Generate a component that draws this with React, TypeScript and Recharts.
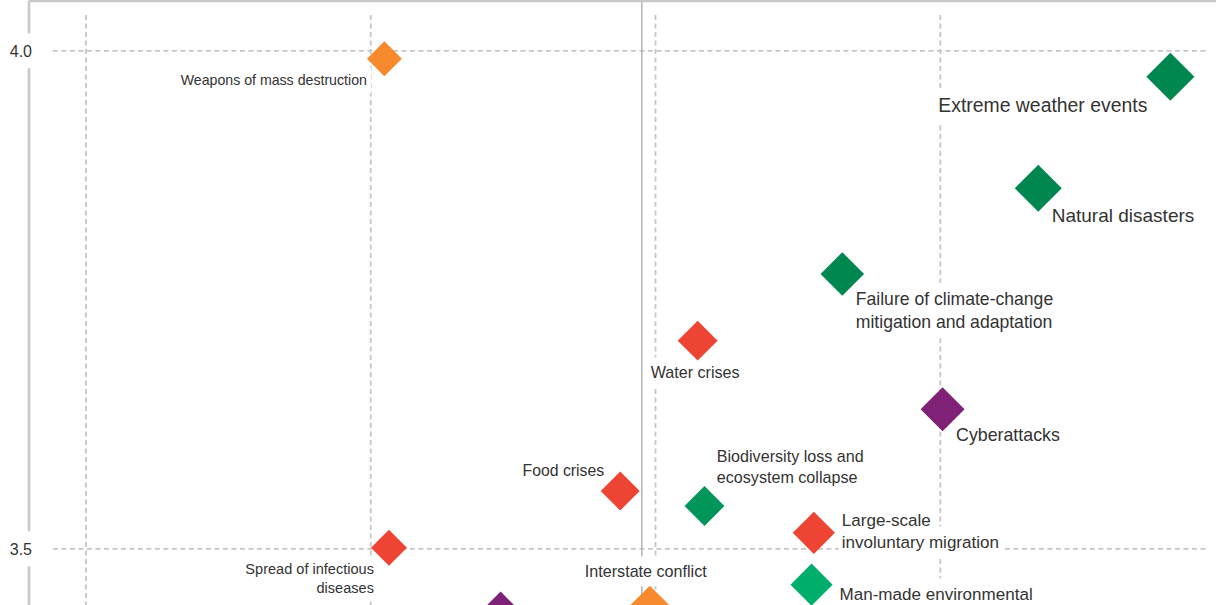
import React from 'react';
import { ScatterChart, Scatter, XAxis, YAxis, ZAxis, ReferenceLine } from 'recharts';

// Global risks landscape (cropped view): likelihood vs impact
const RISKS = [
    'Weapons of mass destruction',
    'Extreme weather events',
    'Natural disasters',
    'Failure of climate-change mitigation and adaptation',
    'Water crises',
    'Cyberattacks',
    'Food crises',
    'Biodiversity loss and ecosystem collapse',
    'Large-scale involuntary migration',
    'Spread of infectious diseases',
    'Interstate conflict',
    'Man-made environmental disasters',
    'Critical information infrastructure breakdown',
];
const CATEGORIES = [
    'Geopolitical',
    'Environmental',
    'Environmental',
    'Environmental',
    'Societal',
    'Technological',
    'Societal',
    'Environmental',
    'Societal',
    'Societal',
    'Geopolitical',
    'Environmental',
    'Technological',
];
const LIKELIHOOD = [3.012, 3.702, 3.586, 3.414, 3.287, 3.502, 3.219, 3.293, 3.389, 3.016, 3.245, 3.387, 3.114];
const IMPACT = [3.992, 3.974, 3.862, 3.776, 3.709, 3.64, 3.558, 3.543, 3.516, 3.501, 3.443, 3.464, 3.437];
const WEIGHT = [53, 100, 96, 82, 69, 84, 66, 69, 77, 56, 69, 77, 69];

const Y_TICKS = [3.5, 4.0];
const X_GRID = [2.75, 3.0, 3.25, 3.5];
const AVERAGE_LIKELIHOOD = 3.238;

const X_DOMAIN: [number, number] = [2.7, 3.8];
const Y_DOMAIN: [number, number] = [3.3, 4.05];

const FONT = '"Liberation Sans", Arial, Helvetica, sans-serif';
const TEXT_COLOR = '#333';
const GRID_COLOR = '#c6c6c6';

const CATEGORY_COLORS: Record<string, string> = {
    Geopolitical: '#f68a2d',
    Societal: '#ed4434',
    Technological: '#7f2277',
    Environmental: '#00864f',
};
const SHADES: Record<string, string> = {
    'Biodiversity loss and ecosystem collapse': '#00965a',
    'Man-made environmental disasters': '#00ae6c',
};

type Anchor = 'start' | 'middle' | 'end';
interface LabelLayout {
    lines: string[];
    anchor: Anchor;
    dx: number;
    dy: number;
}

// label placement relative to each diamond; the last risk's label sits below the visible area
const LABEL_LAYOUT: Record<string, LabelLayout> = {
    'Weapons of mass destruction': { lines: ['Weapons of mass destruction'], anchor: 'end', dx: -17.5, dy: 26 },
    'Extreme weather events': { lines: ['Extreme weather events'], anchor: 'end', dx: -23, dy: 35.7 },
    'Natural disasters': { lines: ['Natural disasters'], anchor: 'start', dx: 13.5, dy: 33.5 },
    'Failure of climate-change mitigation and adaptation': {
        lines: ['Failure of climate-change', 'mitigation and adaptation'],
        anchor: 'start',
        dx: 13.5,
        dy: 31,
    },
    'Water crises': { lines: ['Water crises'], anchor: 'middle', dx: -2.5, dy: 37 },
    Cyberattacks: { lines: ['Cyberattacks'], anchor: 'start', dx: 13.5, dy: 32 },
    'Food crises': { lines: ['Food crises'], anchor: 'end', dx: -16, dy: -14.8 },
    'Biodiversity loss and ecosystem collapse': {
        lines: ['Biodiversity loss and', 'ecosystem collapse'],
        anchor: 'start',
        dx: 12.3,
        dy: -44.3,
    },
    'Large-scale involuntary migration': {
        lines: ['Large-scale', 'involuntary migration'],
        anchor: 'start',
        dx: 28,
        dy: -7.3,
    },
    'Spread of infectious diseases': {
        lines: ['Spread of infectious', 'diseases'],
        anchor: 'end',
        dx: -15,
        dy: 25.8,
    },
    'Interstate conflict': { lines: ['Interstate conflict'], anchor: 'middle', dx: -4, dy: -29 },
    'Man-made environmental disasters': {
        lines: ['Man-made environmental', 'disasters'],
        anchor: 'start',
        dx: 28,
        dy: 15,
    },
};

const data = RISKS.map((name, i) => ({
    name,
    category: CATEGORIES[i],
    x: LIKELIHOOD[i],
    y: IMPACT[i],
    z: WEIGHT[i],
}));

let measureCtx: CanvasRenderingContext2D | null = null;
function textWidth(text: string, size: number) {
    if (!measureCtx) measureCtx = document.createElement('canvas').getContext('2d');
    if (!measureCtx) return text.length * size * 0.5;
    measureCtx.font = `${size}px ${FONT}`;
    return measureCtx.measureText(text).width;
}

function halfSize(props: any) {
    if (props.width) return props.width / 2;
    return Math.sqrt(Math.max(props.size || 0, 0) / Math.PI);
}

function Diamond(props: any) {
    const { cx, cy, payload } = props;
    const h = halfSize(props);
    const fill = SHADES[payload.name] ?? CATEGORY_COLORS[payload.category];
    return <polygon points={`${cx},${cy - h} ${cx + h},${cy} ${cx},${cy + h} ${cx - h},${cy}`} fill={fill} />;
}

function RiskLabel(props: any) {
    const { cx, cy, payload } = props;
    const layout = LABEL_LAYOUT[payload.name];
    if (!layout) return <g />;
    const h = halfSize(props);
    const f = h * 0.8 + 0.2;
    const x = cx + layout.dx;
    const rows = layout.lines.map((line, i) => {
        const base = cy + layout.dy + i * f * 1.3;
        const w = textWidth(line, f);
        const left = layout.anchor === 'start' ? x : layout.anchor === 'end' ? x - w : x - w / 2;
        return { line, base, w, left };
    });
    return (
        <g>
            {rows.map((r, i) => (
                <rect key={`bg-${i}`} x={r.left - 3} y={r.base - f * 1.25} width={r.w + 7} height={f * 1.85} fill="#fff" />
            ))}
            {rows.map((r, i) => (
                <text
                    key={`t-${i}`}
                    x={x}
                    y={r.base}
                    textAnchor={layout.anchor}
                    fontSize={f}
                    fontFamily={FONT}
                    fill={TEXT_COLOR}
                >
                    {r.line}
                </text>
            ))}
        </g>
    );
}

function ImpactTick(props: any) {
    const { x, y, payload } = props;
    return (
        <g>
            <rect x={x - 24} y={y - 17.5} width={28} height={35} fill="#fff" />
            <text x={x + 3} y={y} dy="0.36em" textAnchor="end" fontSize={16} fontFamily={FONT} fill={TEXT_COLOR}>
                {Number(payload.value).toFixed(1)}
            </text>
        </g>
    );
}

export default function App() {
    const gridProps = { stroke: GRID_COLOR, strokeWidth: 1.8, strokeDasharray: '5 3.5', ifOverflow: 'visible' as const };

    return (
        <div
            style={{
                position: 'fixed',
                left: 0,
                top: 0,
                width: 1216,
                height: 605,
                overflow: 'hidden',
                background: '#fff',
            }}
        >
            <ScatterChart width={1282} height={748} margin={{ top: 0, right: 0, bottom: 0, left: 0 }}>
                <XAxis
                    type="number"
                    dataKey="x"
                    orientation="top"
                    domain={X_DOMAIN}
                    allowDataOverflow
                    height={1}
                    tick={false}
                    tickLine={false}
                    axisLine={{ stroke: '#c8c8c8', strokeWidth: 2.6 }}
                />
                <YAxis
                    type="number"
                    dataKey="y"
                    domain={Y_DOMAIN}
                    allowDataOverflow
                    ticks={Y_TICKS}
                    width={29}
                    tickSize={0}
                    tickMargin={0}
                    tickLine={false}
                    axisLine={{ stroke: '#c8c8c8', strokeWidth: 2.6 }}
                    tick={(p: any) => <ImpactTick {...p} />}
                />
                <ZAxis type="number" dataKey="z" domain={[0, 100]} range={[0, Math.PI * 24 * 24]} />

                {X_GRID.map((v) => (
                    <ReferenceLine
                        key={`vx-${v}`}
                        segment={[
                            { x: v, y: 4.036 },
                            { x: v, y: Y_DOMAIN[0] },
                        ]}
                        {...gridProps}
                    />
                ))}
                {Y_TICKS.map((v) => (
                    <ReferenceLine
                        key={`hy-${v}`}
                        segment={[
                            { x: 2.721, y: v },
                            { x: 3.734, y: v },
                        ]}
                        {...gridProps}
                    />
                ))}
                <ReferenceLine x={AVERAGE_LIKELIHOOD} stroke="#b4b4b4" strokeWidth={1.5} ifOverflow="visible" />

                <Scatter data={data} isAnimationActive={false} shape={(p: any) => <RiskLabel {...p} />} />
                <Scatter data={data} isAnimationActive={false} shape={(p: any) => <Diamond {...p} />} />
            </ScatterChart>
        </div>
    );
}
